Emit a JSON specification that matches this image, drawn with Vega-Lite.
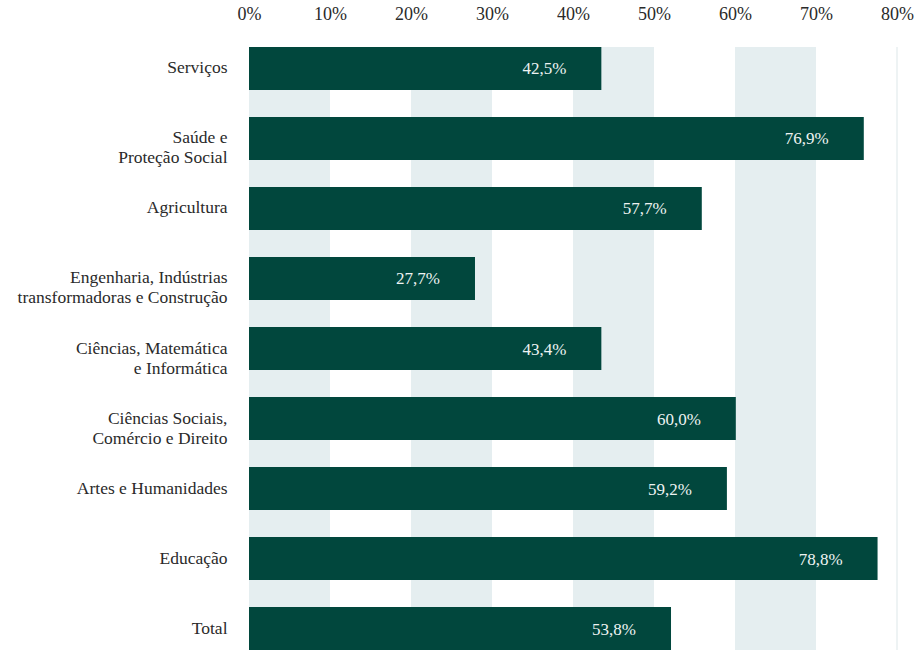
{
  "$schema": "https://vega.github.io/schema/vega-lite/v6.json",
  "width": 648,
  "height": 603,
  "autosize": {"type": "none"},
  "padding": {"left": 249, "top": 47, "right": 22, "bottom": 0},
  "background": "white",
  "config": {"view": {"stroke": null}, "font": "Liberation Serif"},
  "datasets": {
    "bars": [
      {"area": "Serviços", "value": 43.5, "label": "42,5%"},
      {"area": "Saúde e|Proteção Social", "value": 75.9, "label": "76,9%"},
      {"area": "Agricultura", "value": 55.9, "label": "57,7%"},
      {"area": "Engenharia, Indústrias|transformadoras e Construção", "value": 27.9, "label": "27,7%"},
      {"area": "Ciências, Matemática|e Informática", "value": 43.5, "label": "43,4%"},
      {"area": "Ciências Sociais,|Comércio e Direito", "value": 60.1, "label": "60,0%"},
      {"area": "Artes e Humanidades", "value": 59.0, "label": "59,2%"},
      {"area": "Educação", "value": 77.6, "label": "78,8%"},
      {"area": "Total", "value": 52.1, "label": "53,8%"}
    ],
    "bands": [
      {"from": 0, "to": 10},
      {"from": 20, "to": 30},
      {"from": 40, "to": 50},
      {"from": 60, "to": 70}
    ],
    "edge": [{"at": 80}]
  },
  "layer": [
    {
      "data": {"name": "bands"},
      "mark": {"type": "rect", "color": "#e5eef0"},
      "encoding": {
        "x": {"field": "from", "type": "quantitative", "scale": {"domain": [0, 80], "nice": false}},
        "x2": {"field": "to"}
      }
    },
    {
      "data": {"name": "edge"},
      "mark": {"type": "rule", "color": "#eef3f4", "strokeWidth": 2},
      "encoding": {
        "x": {"field": "at", "type": "quantitative"}
      }
    },
    {
      "data": {"name": "bars"},
      "mark": {"type": "bar", "color": "#01473d"},
      "encoding": {
        "y": {
          "field": "area", "type": "nominal", "sort": null,
          "scale": {"paddingInner": 0.386, "paddingOuter": 0},
          "axis": {
            "title": null, "domain": false, "ticks": false,
            "labelExpr": "split(datum.label, '|')",
            "labelFont": "Liberation Serif",
            "labelFontSize": 17.5, "labelColor": "#2a2a2a", "labelPadding": 22,
            "labelLineHeight": 20, "labelLimit": 260
          }
        },
        "x": {
          "field": "value", "type": "quantitative",
          "scale": {"domain": [0, 80], "nice": false},
          "axis": {
            "orient": "top", "title": null, "domain": false, "ticks": false, "grid": false,
            "values": [0, 10, 20, 30, 40, 50, 60, 70, 80],
            "labelExpr": "datum.value + '%'",
            "labelFont": "Liberation Serif",
            "labelFontSize": 18, "labelColor": "#2a2a2a", "labelPadding": 24,
            "labelFlush": false
          }
        }
      }
    },
    {
      "data": {"name": "bars"},
      "mark": {"type": "text", "font": "Liberation Serif", "align": "right", "baseline": "middle", "dx": -35, "dy": 1, "fontSize": 17, "color": "#eef3f2"},
      "encoding": {
        "y": {"field": "area", "type": "nominal", "sort": null},
        "x": {"field": "value", "type": "quantitative"},
        "text": {"field": "label"}
      }
    }
  ]
}
